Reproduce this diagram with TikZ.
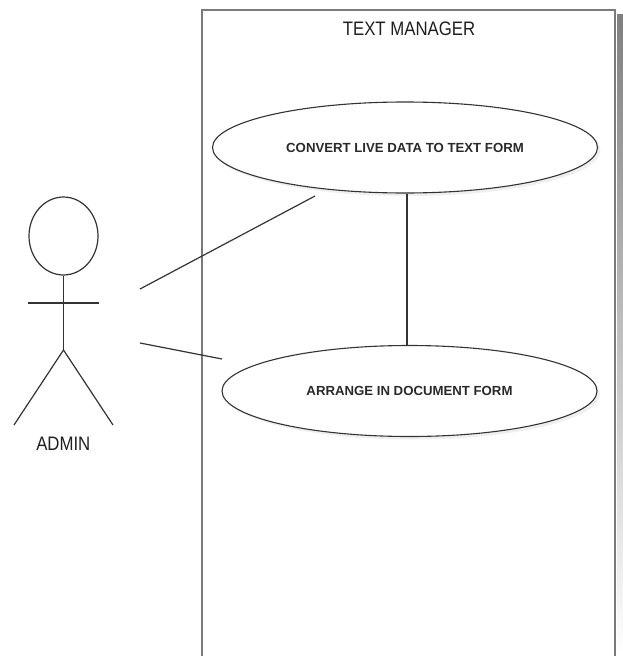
\documentclass[tikz,border=0pt]{standalone}
\usepackage{fontspec}
\usepackage{graphicx}
\setmainfont{Liberation Sans}
\usetikzlibrary{shapes.geometric,shadows}
\definecolor{frame}{HTML}{7A7A7A}
\definecolor{ink}{HTML}{333333}
\definecolor{shade}{HTML}{F2F2F2}
\tikzset{
  usecase/.style={ellipse, draw=ink, line width=1.1pt, fill=white, inner sep=0pt,
    font=\fontsize{13.2}{15}\selectfont\bfseries, text=ink!80!black,
    drop shadow={shadow xshift=3pt, shadow yshift=-3pt, fill=black!10, opacity=0.6}},
  stick/.style={draw=ink, line width=1.2pt},
  assoc/.style={draw=ink, line width=1.2pt},
  lbl/.style={font=\fontsize{19.5}{22}\selectfont, text=black!88, inner sep=0pt}
}
\begin{document}
\begin{tikzpicture}[x=1pt,y=-1pt]
\useasboundingbox (0,0) rectangle (623,656);
% system boundary with right shadow
\fill[shade] (617,14) rectangle (623,656);
\draw[frame, line width=2.2pt] (202,658) -- (202,10) -- (615,10) -- (615,658);
\node[lbl] (title) at (409,28.3) {\scalebox{0.86}[1]{TEXT MANAGER}};
% use cases
\node[usecase, minimum width=385pt, minimum height=91pt] (uc1) at (405,147.5) {CONVERT LIVE DATA TO TEXT FORM};
\node[usecase, minimum width=375pt, minimum height=91pt] (uc2) at (409.5,391) {ARRANGE IN DOCUMENT FORM};
% actor
\node[ellipse, stick, minimum width=69pt, minimum height=78pt, inner sep=0pt] (head) at (63.5,236) {};
\coordinate (hip) at (63.5,350);
\coordinate (armL) at (28,303);
\coordinate (armR) at (99,303);
\coordinate (footL) at (14,425);
\coordinate (footR) at (113,425);
\draw[stick] (head.south) -- (hip);
\draw[stick] (armL) -- (armR);
\draw[stick] (footL) -- (hip) -- (footR);
\node[lbl] (admin) at (63.3,444) {\scalebox{0.86}[1]{ADMIN}};
% associations
\coordinate (a1) at (140,289);
\coordinate (b1) at (315,196);
\coordinate (a2) at (140,343);
\coordinate (b2) at (222,359);
\draw[assoc] (a1) -- (b1);
\draw[assoc] (a2) -- (b2);
\coordinate (v) at (407,0);
\draw[assoc] (uc1.south -| v) -- (uc2.north -| v);
\end{tikzpicture}
\end{document}
